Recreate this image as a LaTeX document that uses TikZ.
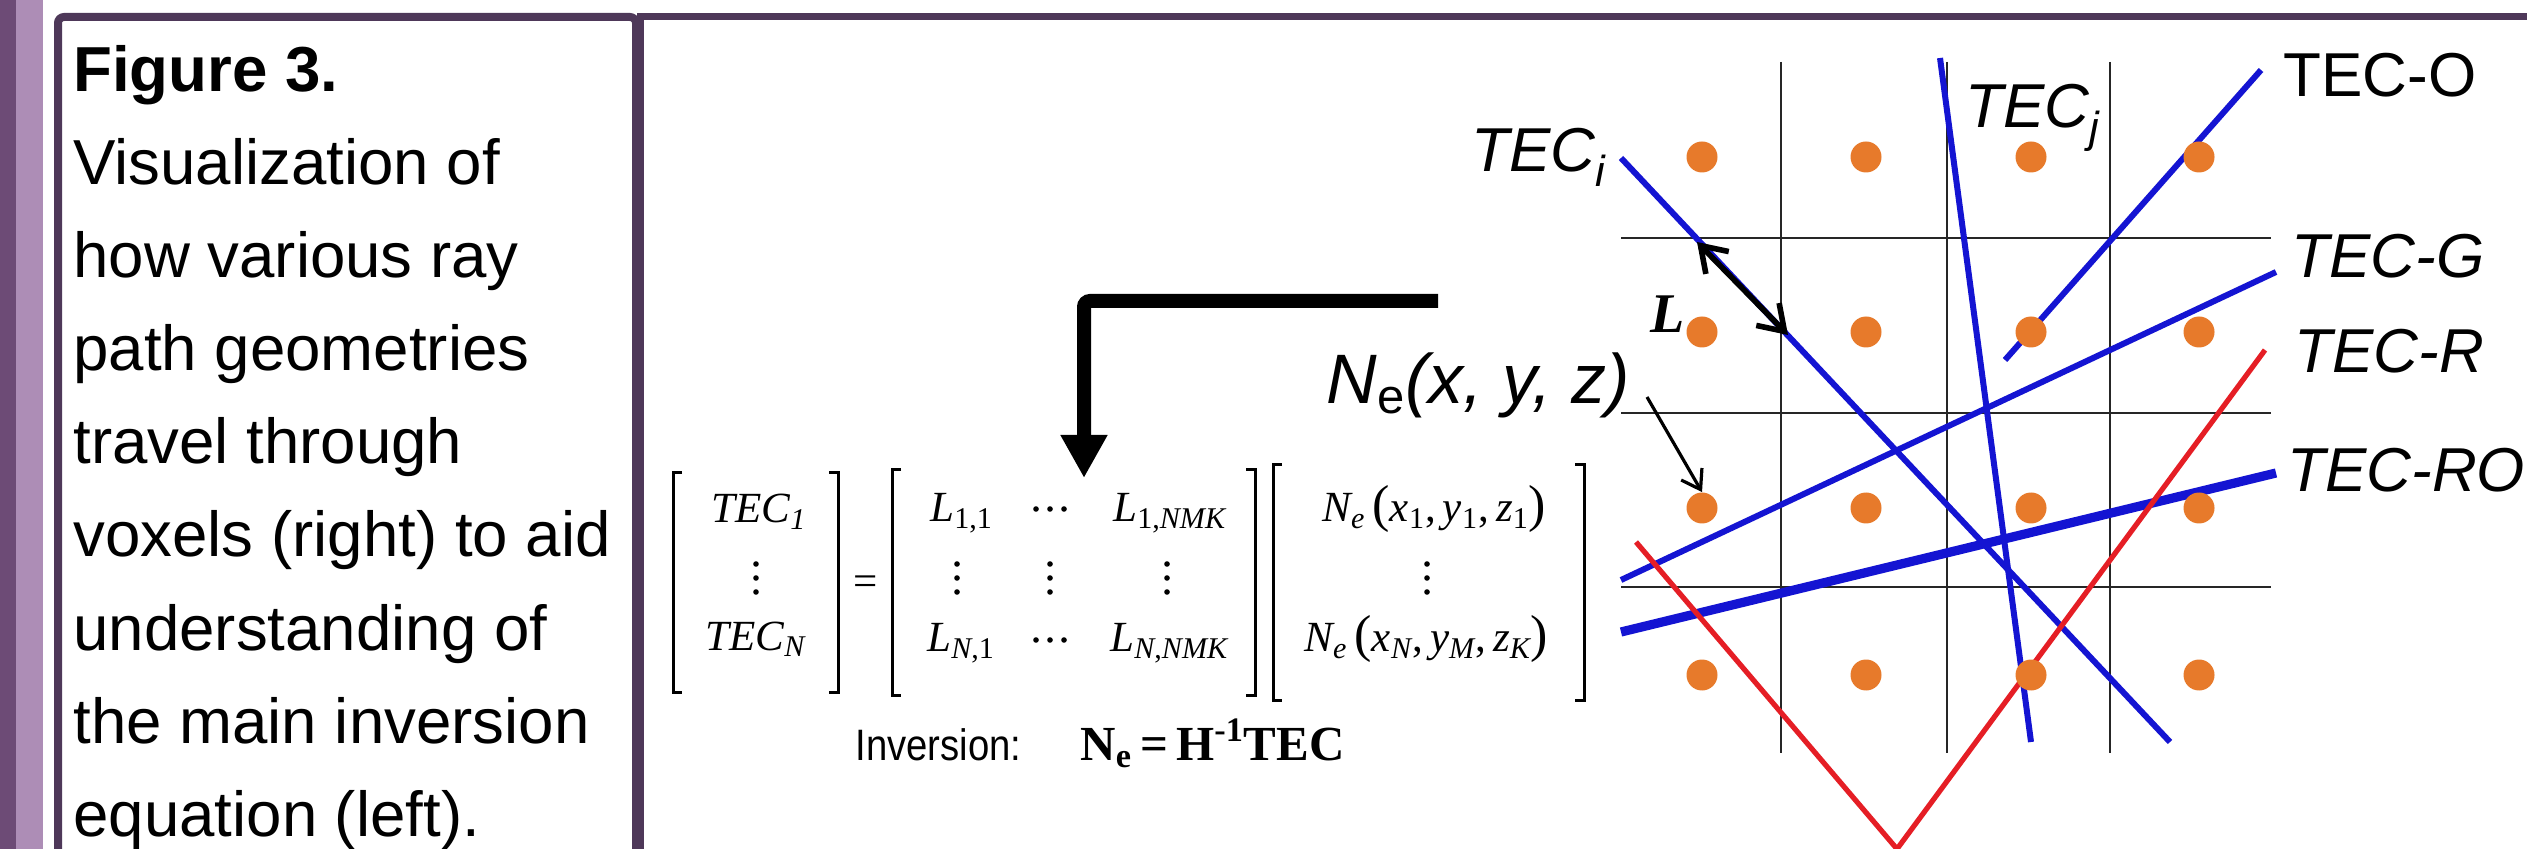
\documentclass[tikz,border=0pt]{standalone}
\usepackage{fontspec}
\setmainfont{Liberation Sans}
\newfontfamily\serif{Liberation Serif}
\usetikzlibrary{arrows.meta}
\definecolor{stripdark}{HTML}{6D4B76}
\definecolor{striplight}{HTML}{AD8DB6}
\definecolor{boxcol}{HTML}{4E3859}
\definecolor{raycol}{HTML}{1414D2}
\definecolor{redray}{HTML}{E51E25}
\definecolor{dotcol}{HTML}{E77A2B}
\newcommand{\bigp}[1]{{\upshape\fontsize{26pt}{26pt}\selectfont #1}}
\begin{document}
\begin{tikzpicture}[x=0.5pt,y=-0.5pt,
  captext/.style={anchor=base west,inner sep=0pt,font=\fontsize{31.8pt}{38pt}\selectfont},
  labtext/.style={anchor=base west,inner sep=0pt,font=\fontsize{31pt}{36pt}\selectfont},
  entry/.style={anchor=base west,inner sep=0pt,font=\serif\itshape\fontsize{21.5pt}{26pt}\selectfont},
  brk/.style={line width=1.5pt,black},
  gridline/.style={line width=1.35pt,black!85},
  bray/.style={line width=3pt,raycol},
  rray/.style={line width=2.6pt,redray},
  dotnode/.style={circle,fill=dotcol,minimum size=15.5pt,inner sep=0pt},
  smalldot/.style={circle,fill=black,minimum size=2.8pt,inner sep=0pt},
  boxborder/.style={line width=4pt,boxcol},
]
\useasboundingbox (0,0) rectangle (2527,849);
\fill[white] (0,0) rectangle (2527,849);
% side strip
\fill[stripdark] (0,0) rectangle (16,849);
\fill[striplight] (16,0) rectangle (43,849);
% boxes
\draw[boxborder,rounded corners=3pt] (58,849) -- (58,17) -- (636,17) -- (636,849);
\draw[boxborder,line width=3.5pt] (640,849) -- (640,17) -- (2527,17);

% caption
\node[captext] (c1) at (73,92) {\textbf{Figure 3.}};
\node[captext] (c2) at (73,185) {Visualization of};
\node[captext] (c3) at (73,278) {how various ray};
\node[captext] (c4) at (73,371) {path geometries};
\node[captext] (c5) at (73,464) {travel through};
\node[captext] (c6) at (73,557) {voxels (right) to aid};
\node[captext] (c7) at (73,650) {understanding of};
\node[captext] (c8) at (73,743) {the main inversion};
\node[captext] (c9) at (73,836) {equation (left).};

% grid
\foreach \gx in {1781,1947,2110} \draw[gridline] (\gx,62) -- (\gx,753);
\foreach \gy in {238,413,587} \draw[gridline] (1621,\gy) -- (2271,\gy);

% rays
\draw[bray] (1621,158) -- (2170,742);
\draw[bray] (1940,58) -- (2031,742);
\draw[bray] (2005,360) -- (2261,70);
\draw[bray] (1621,580) -- (2276,272);
\draw[bray,line width=4.6pt] (1621,632) -- (2276,473);
\draw[rray] (2265,350) -- (1897,849) -- (1636,542);

% voxel dots
\foreach \c/\gx in {1/1702,2/1866,3/2031,4/2199}
  \foreach \r/\gy in {1/157,2/332,3/508,4/675}
    \node[dotnode] (d\r\c) at (\gx,\gy) {};

% labels on the right
\node[labtext] (tci) at (1471,172) {\itshape TEC\textsubscript{i}};
\node[labtext] (tcj) at (1965,128) {\itshape TEC\textsubscript{j}};
\node[labtext] (tco) at (2283,97) {TEC-O};
\node[labtext] (tcg) at (2291,278) {\itshape TEC-G};
\node[labtext] (tcr) at (2294,373) {\itshape TEC-R};
\node[labtext] (tcro) at (2287,492) {\itshape TEC-RO};
\node[anchor=base west,inner sep=0pt,font=\serif\bfseries\itshape\fontsize{28pt}{32pt}\selectfont] (lbl) at (1650,333) {L};
\node[anchor=base east,inner sep=0pt,font=\fontsize{35pt}{40pt}\selectfont] (nel) at (1630,404) {\itshape N\textsubscript{\upshape e}(x, y, z)};

% L double arrow
\coordinate (la) at (1697,242);
\coordinate (lb) at (1788,335);
\draw[line width=2.8pt,{Straight Barb[length=12pt,width=16pt]}-{Straight Barb[length=12pt,width=16pt]}] (la) -- (lb);
% Ne arrow
\coordinate (nes) at (1647,397);
\draw[line width=1.6pt,-{Straight Barb[length=9pt,width=12pt]}] (nes) -- (d31.north);

% big arrow
\coordinate (bs) at (1438,301);
\coordinate (be) at (1084,478);
\draw[line width=7pt,rounded corners=3pt,-{Triangle[length=21.5pt,width=22pt]}] (bs) -| (be);

% equation brackets
\draw[brk] (682,473) -- (673,473) -- (673,692) -- (682,692);
\draw[brk] (829,473) -- (838,473) -- (838,692) -- (829,692);
\draw[brk] (901,470) -- (892,470) -- (892,695) -- (901,695);
\draw[brk] (1246,470) -- (1255,470) -- (1255,695) -- (1246,695);
\draw[brk] (1282,465) -- (1273,465) -- (1273,700) -- (1282,700);
\draw[brk] (1575,465) -- (1584,465) -- (1584,700) -- (1575,700);

\node[entry] (t1) at (711,523) {TEC\textsubscript{1}};
\node[entry] (tn) at (705,650) {TEC\textsubscript{N}};
\node[anchor=center,inner sep=0pt,font=\serif\fontsize{21.5pt}{24pt}\selectfont] (eqs) at (866,586) {=};
\node[entry] (l11) at (930,522) {L\textsubscript{\upshape 1,1}};
\node[entry] (l1n) at (1113,522) {L\textsubscript{{\upshape 1,}NMK}};
\node[entry] (ln1) at (927,652) {L\textsubscript{N{\upshape ,1}}};
\node[entry] (lnn) at (1110,652) {L\textsubscript{N{\upshape ,}NMK}};
\node[entry] (ne1) at (1322,522) {N\textsubscript{e}\,\bigp{(}x\textsubscript{\upshape 1}{\upshape ,}\,y\textsubscript{\upshape 1}{\upshape ,}\,z\textsubscript{\upshape 1}\bigp{)}};
\node[entry] (nen) at (1304,652) {N\textsubscript{e}\,\bigp{(}x\textsubscript{N}{\upshape ,}\,y\textsubscript{M}{\upshape ,}\,z\textsubscript{K}\bigp{)}};
\foreach \vx in {756,957,1050,1167,1427}
  \foreach \vy in {564,578,592}
    \node[smalldot] at (\vx,\vy) {};
\foreach \hx in {1036,1050,1064} {
  \node[smalldot] at (\hx,509) {};
  \node[smalldot] at (\hx,640) {};
}
\node[anchor=base west,inner sep=0pt,font=\fontsize{22pt}{24pt}\selectfont] (inv) at (855,760) {\scalebox{0.87}[1]{Inversion:}};
\node[anchor=base west,inner sep=0pt,font=\serif\bfseries\fontsize{24.5pt}{28pt}\selectfont] (ieq) at (1080,760) {N\textsubscript{e}\,=\,H\textsuperscript{-1}TEC};
\end{tikzpicture}
\end{document}
